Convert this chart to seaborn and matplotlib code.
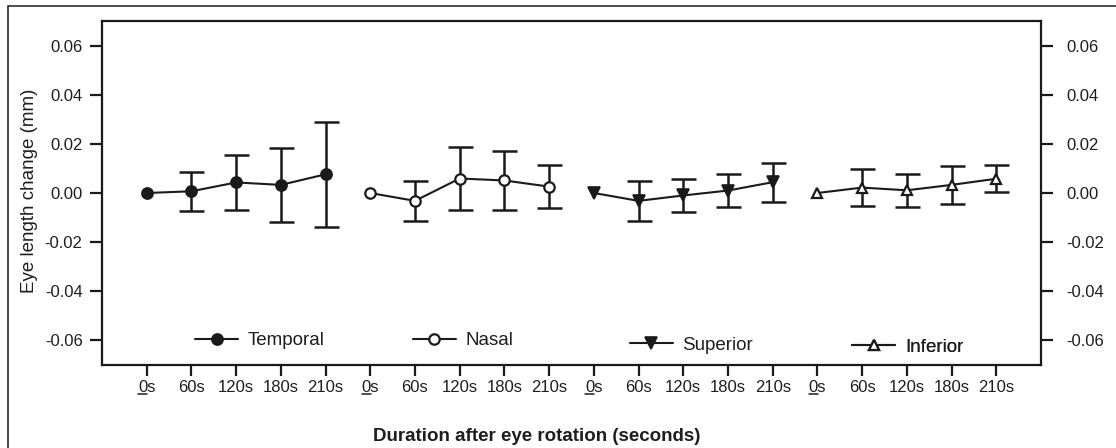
import numpy as np
import pandas as pd
import matplotlib
matplotlib.use("Agg")
import matplotlib.pyplot as plt
from matplotlib.lines import Line2D
from matplotlib.patches import Rectangle
import seaborn as sns

# ---- data ----
groups = ["Temporal", "Nasal", "Superior", "Inferior"]
times = ["0s", "60s", "120s", "180s", "210s"]
temporal_mean = [0.0, 0.0007, 0.0043, 0.0033, 0.0076]
temporal_err = [np.nan, 0.0079, 0.0111, 0.0150, 0.0214]
nasal_mean = [0.0, -0.0032, 0.0059, 0.0051, 0.0026]
nasal_err = [np.nan, 0.0082, 0.0128, 0.0121, 0.0088]
superior_mean = [0.0, -0.0032, -0.0010, 0.0010, 0.0044]
superior_err = [np.nan, 0.0082, 0.0066, 0.0067, 0.0080]
inferior_mean = [0.0, 0.0022, 0.0011, 0.0033, 0.0058]
inferior_err = [np.nan, 0.0075, 0.0066, 0.0076, 0.0055]
y_ticks = [-0.06, -0.04, -0.02, 0.00, 0.02, 0.04, 0.06]

means = [temporal_mean, nasal_mean, superior_mean, inferior_mean]
errs = [temporal_err, nasal_err, superior_err, inferior_err]

rows = []
for gi, g in enumerate(groups):
    for ti, t in enumerate(times):
        rows.append({"group": g, "pos": gi * len(times) + ti + 1, "time": t,
                     "value": means[gi][ti], "err": errs[gi][ti]})
df = pd.DataFrame(rows)

# ---- style ----
sns.set_style("white")
plt.rcParams["font.family"] = ["Liberation Sans", "DejaVu Sans"]
TXT = "#1e1e1e"
INK = "#1a1a1a"

marker_styles = {
    "Temporal": dict(marker="o", markersize=8, markerfacecolor=INK, markeredgecolor=INK, markeredgewidth=1.2),
    "Nasal": dict(marker="o", markersize=7.5, markerfacecolor="white", markeredgecolor=INK, markeredgewidth=1.6),
    "Superior": dict(marker="v", markersize=8.5, markerfacecolor=INK, markeredgecolor=INK, markeredgewidth=1.2),
    "Inferior": dict(marker="^", markersize=7.5, markerfacecolor="white", markeredgecolor=INK, markeredgewidth=1.6),
}

fig = plt.figure(figsize=(11.16, 4.48), dpi=100)
ax = fig.add_axes([102 / 1116, 83 / 448, 939 / 1116, 344 / 448])

for g in groups:
    sub = df[df["group"] == g]
    ok = sub["err"].notna()
    ax.errorbar(sub.loc[ok, "pos"], sub.loc[ok, "value"], yerr=sub.loc[ok, "err"],
                fmt="none", ecolor=INK, elinewidth=1.8, capsize=9, capthick=1.8, zorder=2)
    sns.lineplot(data=sub, x="pos", y="value", ax=ax, color=INK, linewidth=1.5,
                 errorbar=None, zorder=3, legend=False, **marker_styles[g])

ax.set_xlim(0, 21)
ax.set_ylim(-0.07, 0.07)
ax.set_xticks(df["pos"])
ax.set_xticklabels(list(df["time"]))
ax.set_yticks(y_ticks)
ax.set_yticklabels([f"{v:.2f}" for v in y_ticks])
for s in ax.spines.values():
    s.set_visible(True)
    s.set_color(INK)
    s.set_linewidth(1.6)
ax.tick_params(axis="x", direction="out", length=8, width=1.6, color=INK,
               labelsize=12, labelcolor=TXT, pad=3, bottom=True)
ax.tick_params(axis="y", direction="out", length=8.5, width=1.6, color=INK,
               labelsize=12, labelcolor=TXT, pad=5.5, left=True)

ax2 = ax.twinx()
ax2.set_ylim(ax.get_ylim())
ax2.set_yticks(y_ticks)
ax2.set_yticklabels([f"{v:.2f}" for v in y_ticks])
ax2.tick_params(axis="y", direction="out", length=8.5, width=1.6, color=INK,
                labelsize=12, labelcolor=TXT, pad=9.5, right=True)
for s in ax2.spines.values():
    s.set_visible(False)

ax.set_ylabel("Eye length change (mm)", fontsize=13.5, color=TXT)
ax.yaxis.set_label_coords(-0.068, 0.507)
ax.set_xlabel("Duration after eye rotation (seconds)", fontsize=13.5,
              fontweight="bold", color=TXT)
ax.xaxis.set_label_coords(0.463, -0.183)

# legends: one entry per group along the bottom of the plot
leg_pos = {"Temporal": (0.099, 0.070), "Nasal": (0.331, 0.070),
           "Superior": (0.562, 0.058), "Inferior": (0.799, 0.052)}
for g in groups:
    h = Line2D([], [], color=INK, linewidth=1.5, **marker_styles[g])
    lg = ax.legend([h], [g], loc="center left", bbox_to_anchor=leg_pos[g],
                   frameon=False, fontsize=13.5, handlelength=2.3,
                   handletextpad=0.5, borderpad=0, borderaxespad=0,
                   labelcolor=TXT)
    ax.add_artist(lg)

# outer frame (left and top edges visible)
fig.patches.append(Rectangle((8 / 1116, -0.2), 1.5, (448 - 6) / 448 + 0.2,
                             transform=fig.transFigure, fill=False,
                             edgecolor=INK, linewidth=1.1, clip_on=False))

# underline the "0" of each "0s" tick label
fig.canvas.draw()
renderer = fig.canvas.get_renderer()
W, H = fig.bbox.width, fig.bbox.height
for lab in ax.get_xticklabels():
    if lab.get_text() == "0s":
        fp = lab.get_fontproperties()
        bb = lab.get_window_extent(renderer)
        w0, _, _ = renderer.get_text_width_height_descent("0", fp, ismath=False)
        wall, _, _ = renderer.get_text_width_height_descent("0s", fp, ismath=False)
        _, _, dlp = renderer.get_text_width_height_descent("lp", fp, ismath=False)
        x0 = bb.x0 + (bb.width - wall) / 2
        yb = bb.y0 + dlp - 2.0
        fig.add_artist(Line2D([x0 / W, (x0 + w0) / W], [yb / H, yb / H],
                              transform=fig.transFigure, color=TXT, linewidth=1.1))

fig.savefig("out.png", dpi=100)
